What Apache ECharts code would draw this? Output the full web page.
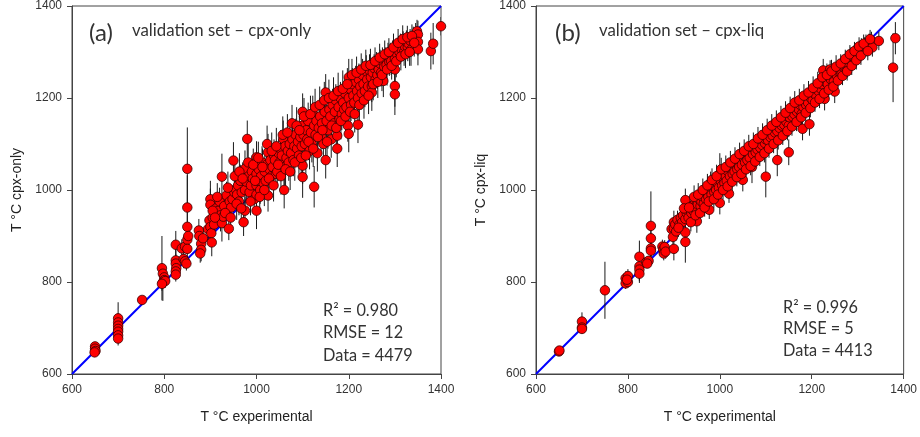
<!DOCTYPE html>
<html>
<head>
<meta charset="utf-8">
<script src="https://cdn.jsdelivr.net/npm/echarts@6/dist/echarts.min.js"></script>
<style>html,body{margin:0;padding:0;background:#fff}#c{width:920px;height:437px}</style>
</head>
<body>
<div id="c"></div>
<script>
// Axis ticks (both panels share the same range)
const axisTicks = [600, 800, 1000, 1200, 1400];
const oneToOne = [[600, 600], [1400, 1400]];

// Panel labels and statistics
const panelTitles = ['validation set – cpx-only', 'validation set – cpx-liq'];
const panelTags = ['(a)', '(b)'];
const yNames = ['T °C cpx-only', 'T °C cpx-liq'];
const xName = 'T °C experimental';
const statsA = ['R² = 0.980', 'RMSE = 12', 'Data = 4479'];
const statsB = ['R² = 0.996', 'RMSE = 5', 'Data = 4413'];

// Panel (a): [T experimental, T cpx-only, error half-length]
const panelA = [
[650,660,10],[650,655,8],[651,650,8],[649,647,6],
[700,721,35],[700,712,20],[700,705,18],[700,698,15],[700,692,15],[700,684,15],[700,677,15],
[752,761,8],
[795,830,70],[797,818,20],[800,810,20],[800,804,15],[797,799,40],[802,802,15],[795,796,15],
[825,881,30],[825,847,25],[825,840,20],[826,830,20],[825,823,15],[825,816,15],
[838,873,20],[842,850,20],[845,845,15],[848,840,15],[845,877,15],
[850,1046,90],[850,962,70],[850,920,40],[850,892,30],[850,872,20],[852,900,20],
[875,912,25],[876,900,20],[880,883,25],[880,870,25],[878,862,20],[884,895,20],
[895,915,25],[900,980,40],[900,968,35],[898,934,30],[900,920,25],[902,906,25],[903,886,30],[905,940,25],[908,925,20],
[912,960,30],[918,955,30],[925,1029,50],[922,945,35],[925,928,40],[920,975,30],[930,965,30],[928,942,25],
[935,988,30],[940,916,25],[942,975,30],[945,962,30],[948,980,25],[950,1064,40],[952,995,30],[955,1002,30],[958,990,25],[960,1010,30],[962,975,30],[965,1020,35],[968,995,30],
[972,930,30],[975,955,30],[975,1000,35],[978,1018,40],[975,1046,40],[980,1111,40],[983,1030,35],[985,995,30],[988,1010,30],[990,1040,35],[992,1025,30],[995,980,30],
[1000,1071,35],[1000,1055,40],[1000,1035,35],[1000,1010,30],[1000,990,35],[1000,955,40],[1003,1020,30],[1005,1045,35],[1008,1000,30],[1010,1030,30],[1012,1060,35],[1015,1015,30],[1018,1040,35],
[1020,1020,30],[1022,1055,35],[1025,1082,40],[1025,988,35],[1028,1045,30],[1030,1065,35],[1032,1030,30],[1035,1050,30],[1038,1075,35],[1040,1065,30],[1042,1035,30],[1045,1040,35],[1048,1080,30],
[1050,1060,35],[1052,1090,40],[1055,1075,35],[1058,1111,40],[1060,1000,40],[1060,1050,40],[1062,1095,35],[1065,1070,35],[1068,1085,30],[1070,1060,40],[1072,1100,35],[1075,1080,35],[1078,1110,40],[1080,1065,35],[1082,1095,40],[1085,1120,35],[1088,1090,35],[1090,1105,30],[1092,1075,40],[1095,1115,35],[1098,1095,35],
[1100,1170,40],[1100,1140,35],[1100,1053,40],[1100,1028,45],[1102,1120,35],[1105,1100,40],[1108,1130,35],[1110,1110,35],[1112,1150,40],[1115,1085,40],[1118,1125,35],[1120,1100,40],[1122,1165,40],[1125,1007,45],[1125,1140,35],[1128,1120,40],[1130,1150,35],[1132,1080,40],[1135,1135,35],[1138,1160,40],[1140,1120,40],[1142,1145,35],[1145,1100,40],[1148,1170,35],
[1150,1212,40],[1150,1065,40],[1152,1150,35],[1155,1130,40],[1158,1175,35],[1160,1160,35],[1162,1110,40],[1165,1185,35],[1168,1145,40],[1170,1170,35],[1172,1195,35],[1175,1090,40],[1175,1118,40],[1178,1180,35],[1180,1154,35],[1182,1200,35],[1185,1165,35],[1188,1190,35],[1190,1175,40],[1192,1210,35],[1195,1180,35],[1198,1140,35],
[1200,1245,40],[1200,1122,40],[1200,1200,35],[1203,1220,35],[1205,1185,35],[1208,1230,35],[1210,1205,35],[1212,1190,35],[1215,1235,35],[1218,1215,35],[1220,1142,40],[1220,1200,35],[1222,1240,35],[1225,1225,35],[1228,1210,35],[1230,1250,35],[1232,1230,30],[1235,1215,35],[1238,1258,35],[1240,1240,30],[1242,1225,35],[1245,1260,35],[1248,1245,30],
[1250,1226,35],[1250,1212,40],[1252,1255,30],[1255,1265,30],[1258,1240,30],[1260,1270,30],[1262,1250,30],[1265,1262,30],[1268,1275,30],[1270,1255,30],[1273,1280,30],[1275,1237,35],[1277,1268,30],[1280,1285,25],[1282,1272,30],[1285,1290,30],[1288,1278,30],[1290,1295,25],[1292,1280,30],[1295,1300,25],
[1300,1262,40],[1300,1226,45],[1300,1208,45],[1300,1285,30],[1302,1302,25],[1305,1295,25],[1308,1310,25],[1310,1300,25],[1312,1315,25],[1315,1305,25],[1318,1320,25],[1320,1300,30],[1322,1312,25],[1325,1322,25],[1328,1310,30],[1330,1318,25],[1333,1325,25],[1335,1305,35],
[1340,1330,25],[1345,1338,25],[1348,1345,25],[1350,1338,30],[1350,1322,30],[1350,1306,35],
[1378,1302,40],[1383,1318,45],[1400,1356,20],
[905,955,30],[910,940,35],[915,985,30],[932,950,30],[938,1005,35],[944,940,30],[953,1030,35],[957,970,35],[963,1040,40],[967,960,30],[970,1025,35],[982,1060,40],[987,975,30],[993,1055,35],[997,1020,40],[1004,1070,35],[1007,985,35],[1013,1050,40],[1017,1000,35],[1023,1100,40],[1027,1025,35],[1033,1085,40],[1037,1010,35],[1043,1095,40],[1047,1055,35],[1053,1030,40],[1057,1120,40],[1063,1045,35],[1067,1125,40],[1073,1040,40],[1077,1145,40],[1083,1060,40],[1087,1140,40],[1093,1130,40],[1097,1070,40],[1103,1160,40],[1107,1075,40],[1113,1105,40],[1117,1165,40],[1123,1090,40],[1127,1180,40],[1133,1115,40],[1137,1185,40],[1143,1130,40],[1147,1195,40],[1153,1105,40],[1157,1200,40],[1163,1140,40],[1167,1205,40],[1173,1135,40],[1177,1215,40],[1183,1150,40],[1187,1220,40],[1193,1160,40],[1197,1230,35],[1203,1170,40],[1207,1250,35],[1213,1165,40],[1217,1255,35],[1223,1185,40],[1227,1262,35],[1233,1195,40],[1237,1270,35],[1243,1205,40],[1247,1272,35],[1253,1230,35],[1257,1280,30],[1263,1235,35],[1267,1288,30],[1272,1250,35],[1278,1295,30],[1283,1262,35],[1287,1300,30],[1293,1270,30],[1297,1310,30],[1303,1280,35],[1307,1320,30],[1313,1290,30],[1317,1328,30],[1323,1295,30],[1327,1332,25],[1332,1300,30],[1337,1335,25],[1342,1320,30]
];

// Panel (b): [T experimental, T cpx-liq, error half-length]
const panelB = [
[650,649,8],[651,651,6],
[700,714,20],[700,701,12],[700,698,10],
[750,782,62],
[795,808,15],[795,797,12],[800,813,15],[800,800,12],[798,805,10],
[825,855,35],[825,834,30],[825,827,25],[825,818,20],
[840,843,10],[845,846,10],[842,840,10],
[850,922,75],[850,895,30],[850,873,20],[850,868,15],
[875,877,15],[877,870,15],[880,876,15],[878,862,15],[882,866,15],
[895,915,20],[900,930,25],[900,916,20],[898,898,20],[900,872,25],[903,925,20],[905,910,20],[908,935,20],
[912,925,20],[915,940,20],[918,930,20],[920,945,20],[925,978,25],[925,937,25],[925,908,30],[925,887,45],[928,950,20],[930,955,20],[932,940,20],
[935,960,20],[938,950,20],[940,965,25],[942,955,20],[945,970,20],[948,960,20],[950,975,20],[950,932,25],[952,968,20],[955,980,20],[958,965,20],[960,975,20],[962,985,20],[965,970,20],[968,990,20],[970,980,20],[972,995,20],
[975,985,20],[977,957,20],[978,1000,20],[980,1015,25],[982,990,20],[985,1005,20],[988,995,20],[990,1010,20],[992,1000,20],[995,1015,20],[998,1005,20],
[1000,1035,45],[1000,972,25],[1002,1020,20],[1005,1010,20],[1008,1025,20],[1010,1015,20],[1012,1030,20],[1015,1020,20],[1018,1040,20],[1020,992,20],[1022,1030,25],[1025,1045,20],[1028,1035,20],[1030,1050,20],[1032,1040,20],[1035,1055,20],[1038,1045,25],[1040,1060,20],[1042,1050,20],[1045,1065,20],[1048,1055,25],
[1050,1022,25],[1052,1070,25],[1055,1060,20],[1058,1075,20],[1060,1065,20],[1062,1080,25],[1065,1070,20],[1068,1085,20],[1070,1050,35],[1072,1078,20],[1075,1090,20],[1078,1082,20],[1080,1095,25],[1082,1088,20],[1085,1100,20],[1088,1092,20],[1090,1105,25],[1092,1098,20],[1095,1108,20],[1098,1102,20],
[1100,1029,45],[1100,1110,20],[1102,1115,20],[1105,1108,20],[1108,1120,20],[1110,1115,20],[1112,1125,20],[1115,1118,20],[1118,1130,20],[1120,1125,20],[1122,1135,20],[1125,1065,35],[1125,1128,20],[1128,1140,20],[1130,1135,20],[1132,1145,20],[1135,1140,20],[1138,1150,20],[1140,1142,20],[1142,1155,20],[1145,1148,20],[1148,1160,20],
[1150,1082,28],[1150,1140,25],[1152,1158,20],[1155,1165,20],[1158,1160,20],[1160,1170,20],[1162,1165,20],[1165,1175,20],[1168,1170,20],[1170,1180,20],[1172,1175,20],[1175,1185,20],[1178,1165,25],[1180,1133,25],[1182,1180,20],[1185,1190,20],[1188,1185,20],[1190,1195,20],[1192,1190,20],[1195,1143,25],[1198,1200,20],
[1200,1205,20],[1202,1195,20],[1205,1210,20],[1208,1215,20],[1210,1205,20],[1212,1220,20],[1215,1215,20],[1218,1225,20],[1220,1220,20],[1222,1230,25],[1225,1260,25],[1228,1198,25],[1230,1235,20],[1232,1240,20],[1235,1230,20],[1238,1245,20],[1240,1262,20],[1242,1240,20],[1245,1250,20],[1248,1235,20],
[1250,1214,25],[1252,1255,20],[1255,1248,20],[1258,1258,20],[1260,1262,20],[1265,1252,20],[1268,1268,20],[1270,1270,20],[1272,1275,20],[1275,1282,20],[1278,1265,20],[1280,1275,20],[1282,1285,20],[1285,1290,20],[1288,1280,20],[1290,1290,20],[1292,1295,20],[1295,1298,20],
[1300,1300,20],[1302,1295,20],[1305,1305,20],[1308,1310,20],[1310,1305,20],[1315,1312,20],[1318,1318,20],[1320,1310,20],[1325,1320,20],[1330,1324,20],[1332,1310,20],[1346,1324,20],
[1377,1266,75],[1382,1330,35],
[910,918,20],[922,960,25],[933,962,25],[937,930,20],[944,985,25],[947,945,20],[953,990,25],[957,950,20],[963,1000,25],[967,962,20],[973,1010,25],[976,975,20],[983,1022,25],[987,980,20],[993,1030,25],[996,990,20],[1003,1045,25],[1007,1000,20],[1013,1050,25],[1017,1008,20],[1023,1060,25],[1027,1018,20],[1033,1068,25],[1037,1028,20],[1043,1078,25],[1047,1035,20],[1053,1085,25],[1057,1045,20],[1063,1095,25],[1067,1052,20],[1073,1100,25],[1077,1062,20],[1083,1112,25],[1087,1072,20],[1093,1120,25],[1097,1080,20],[1103,1130,25],[1107,1090,20],[1113,1140,25],[1117,1100,20],[1123,1148,25],[1127,1108,20],[1133,1158,25],[1137,1118,20],[1143,1168,25],[1147,1128,20],[1153,1178,25],[1157,1138,20],[1163,1190,25],[1167,1148,20],[1173,1195,25],[1177,1158,20],[1183,1205,25],[1187,1168,20],[1193,1212,25],[1197,1178,20],[1203,1222,25],[1207,1190,20],[1213,1232,25],[1217,1198,20],[1223,1245,25],[1227,1210,20],[1233,1250,25],[1237,1218,20],[1243,1258,25],[1247,1225,20],[1253,1268,25],[1257,1238,20],[1263,1275,20],[1267,1248,20],[1273,1285,20],[1277,1258,20],[1283,1295,20],[1287,1270,20],[1293,1302,20],[1297,1282,20],[1303,1312,20],[1307,1292,20],[1313,1318,20],[1322,1302,20],[1327,1328,20]
];

const chart = echarts.init(document.getElementById('c'), null, {renderer: 'canvas'});
const axisFont = '"Liberation Sans", Arial, sans-serif';
const noteFont = 'Lato, "Open Sans", sans-serif';

function xAx(i) {
  return {
    gridIndex: i, type: 'value', min: axisTicks[0], max: axisTicks[axisTicks.length - 1], interval: 200,
    axisLine: {show: true, lineStyle: {color: '#444', width: 1}},
    axisTick: {show: true, inside: false, length: 5, lineStyle: {color: '#444'}},
    axisLabel: {margin: 10, fontSize: 12, color: '#333', fontFamily: axisFont, formatter: v => String(v)},
    splitLine: {show: false},
    name: xName, nameLocation: 'middle', nameGap: 36,
    nameTextStyle: {fontSize: 14, color: '#222', fontFamily: axisFont}
  };
}
function yAx(i) {
  return {
    gridIndex: i, type: 'value', min: axisTicks[0], max: axisTicks[axisTicks.length - 1], interval: 200,
    axisLine: {show: true, lineStyle: {color: '#444', width: 1}},
    axisTick: {show: true, inside: false, length: 5, lineStyle: {color: '#444'}},
    axisLabel: {margin: 10, fontSize: 12, color: '#333', fontFamily: axisFont, formatter: v => String(v)},
    splitLine: {show: false},
    name: yNames[i], nameLocation: 'middle', nameGap: 48,
    nameTextStyle: {fontSize: 14, color: '#222', fontFamily: axisFont}
  };
}
function errRender(params, api) {
  const x = api.value(0), y = api.value(1), e = api.value(2);
  const p1 = api.coord([x, y - e]);
  const p2 = api.coord([x, y + e]);
  return {type: 'line', shape: {x1: p1[0], y1: p1[1], x2: p2[0], y2: p2[1]},
    style: {stroke: '#1a1a1a', lineWidth: 1}};
}
function seriesFor(i, data) {
  return [
    {type: 'line', xAxisIndex: i, yAxisIndex: i, data: oneToOne, symbol: 'none',
     lineStyle: {color: '#0000ff', width: 2}, z: 1, silent: true},
    {type: 'custom', xAxisIndex: i, yAxisIndex: i, data: data, renderItem: errRender,
     encode: {x: 0, y: 1}, clip: true, z: 2, silent: true},
    {type: 'scatter', xAxisIndex: i, yAxisIndex: i, data: data.map(d => [d[0], d[1]]),
     symbol: 'circle', symbolSize: 9.5,
     itemStyle: {color: '#ff0000', borderColor: '#3a0000', borderWidth: 0.8, opacity: 1}, z: 3, silent: true}
  ];
}
function textEl(x, y, txt, size, family) {
  return {type: 'text', x: x, y: y, z: 10,
    style: {text: txt, fontSize: size, fontFamily: family, fill: '#333', textVerticalAlign: 'middle', textAlign: 'left'}};
}

const option = {
  animation: false,
  backgroundColor: '#fff',
  grid: [
    {left: 72, top: 5, width: 369, height: 369, show: true, borderColor: '#444', borderWidth: 1, backgroundColor: 'transparent'},
    {left: 536, top: 5, width: 370, height: 369, show: true, borderColor: '#444', borderWidth: 1, backgroundColor: 'transparent'}
  ],
  xAxis: [xAx(0), xAx(1)],
  yAxis: [yAx(0), yAx(1)],
  series: [].concat(seriesFor(0, panelA), seriesFor(1, panelB)),
  graphic: [
    textEl(89, 33, panelTags[0], 24, noteFont),
    textEl(132, 31, panelTitles[0], 16.8, noteFont),
    textEl(323, 311, statsA[0], 16.3, noteFont),
    textEl(323, 333, statsA[1], 16.3, noteFont),
    textEl(323, 356, statsA[2], 16.3, noteFont),
    textEl(555, 33, panelTags[1], 24, noteFont),
    textEl(599, 31, panelTitles[1], 16.8, noteFont),
    textEl(783, 308, statsB[0], 16.3, noteFont),
    textEl(783, 329, statsB[1], 16.3, noteFont),
    textEl(783, 351, statsB[2], 16.3, noteFont)
  ]
};
chart.setOption(option);
</script>
</body>
</html>
